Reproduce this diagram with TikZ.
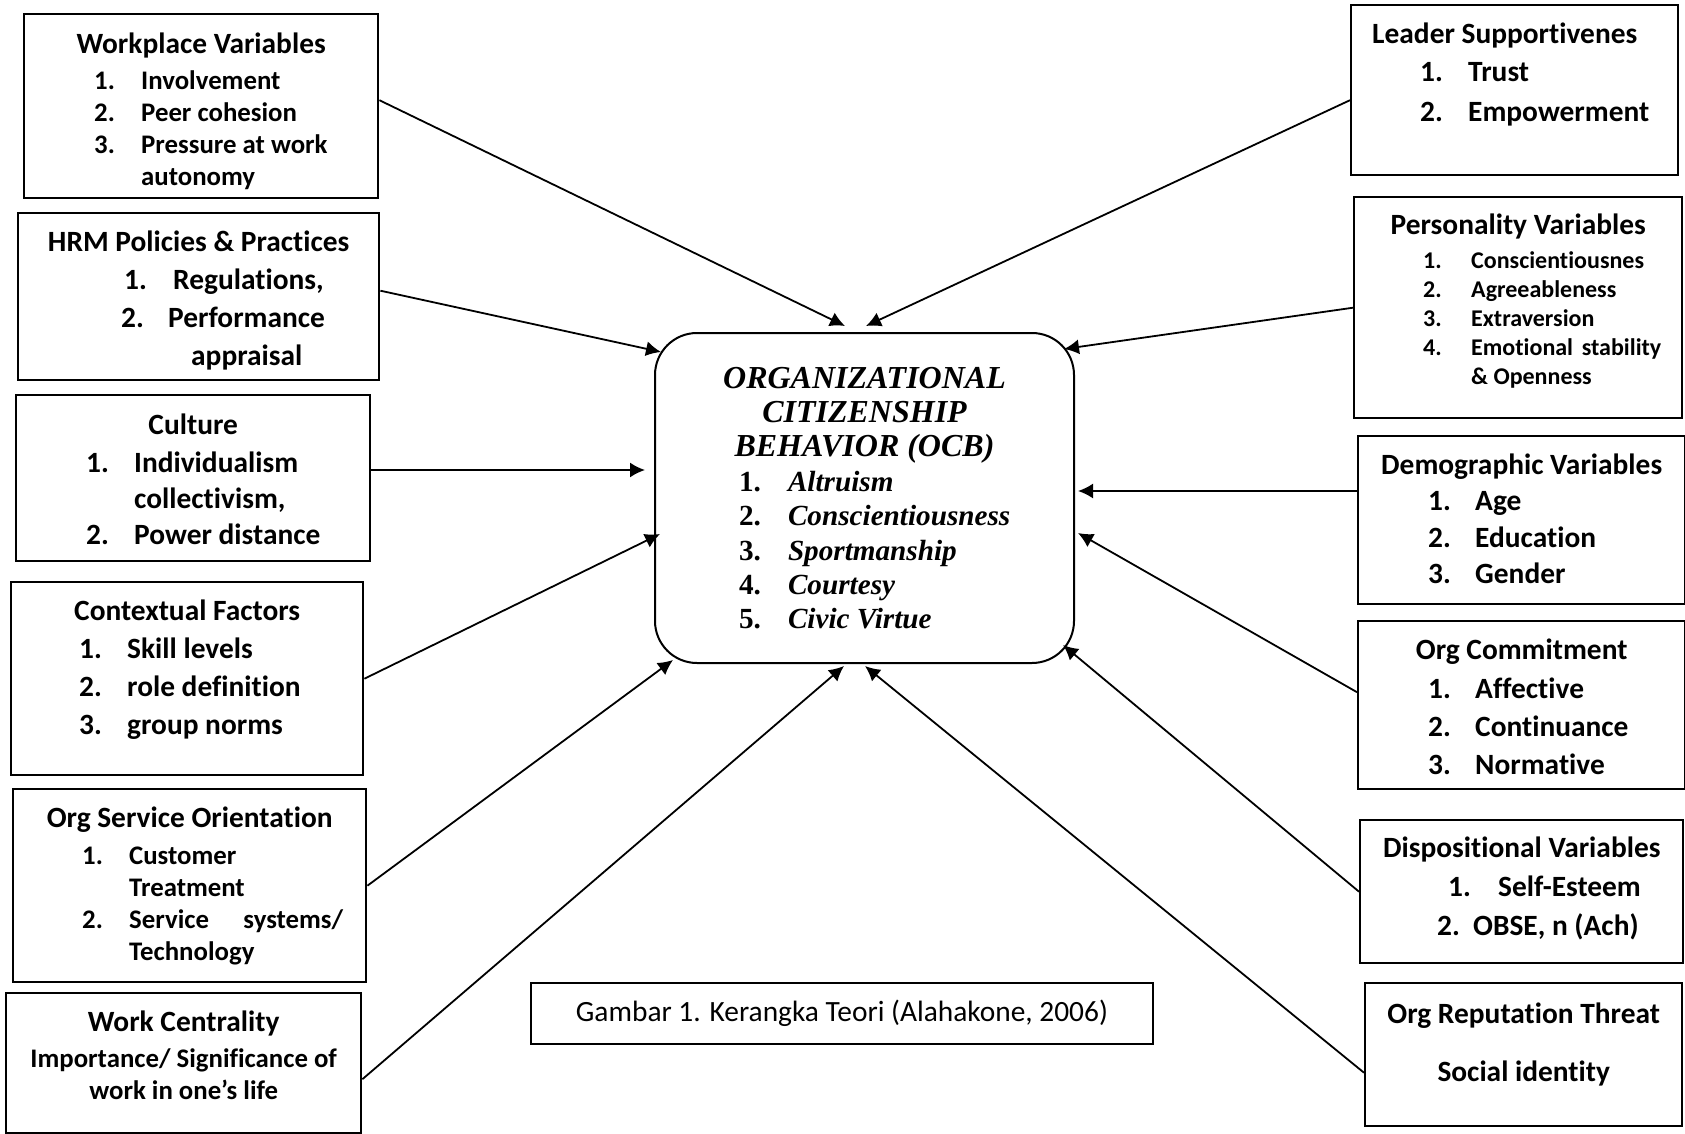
\documentclass[tikz,border=0pt]{standalone}
\usepackage{fontspec}
\setmainfont{Carlito}[Ligatures=NoCommon]
\newfontfamily\timesfont{Liberation Serif}
\usetikzlibrary{arrows.meta}

% header line (first one carries the strut), list line
\newcommand{\hd}[2]{\rule{0pt}{#1}\makebox[\linewidth][c]{#2}}
\newcommand{\li}[4]{\makebox[\linewidth][l]{\hspace*{#1}\makebox[#2][l]{#3}#4}}
\newcommand{\boxtext}[4]{\parbox[t][#2][t]{#1}{\fontsize{14.7}{#3}\selectfont\bfseries #4}}

\begin{document}
\begin{tikzpicture}[x=0.5pt,y=-0.5pt,->,>={Latex[length=7.5pt,width=7.5pt]},
        factor/.style={draw,line width=1.2pt,inner sep=0pt,anchor=north west},
        core/.style={draw,line width=1pt,rounded corners=21pt,inner sep=0pt,anchor=north west},
        caption/.style={draw,line width=0.9pt,inner sep=0pt,anchor=north west,
          minimum width=311pt,minimum height=30.5pt,font=\fontsize{14.7}{17}\selectfont},
        link/.style={line width=0.9pt}]

  \useasboundingbox (0,0) rectangle (1685,1134);

  % centre
  \node[core] (ocb) at (654,332) {\parbox[t][165pt][t]{209.5pt}{%
    \timesfont\bfseries\itshape\fontsize{16}{17.2}\selectfont
    \hd{27.5pt}{ORGANIZATIONAL}\\
    \hd{0pt}{CITIZENSHIP}\\
    \hd{0pt}{BEHAVIOR (OCB)}\par
    \fontsize{14.6}{17.2}\selectfont
    \li{42pt}{24.5pt}{\upshape 1.}{Altruism}\\
    \li{42pt}{24.5pt}{\upshape 2.}{Conscientiousness}\\
    \li{42pt}{24.5pt}{\upshape 3.}{Sportmanship}\\
    \li{42pt}{24.5pt}{\upshape 4.}{Courtesy}\\
    \li{42pt}{24.5pt}{\upshape 5.}{Civic Virtue}}};

  % left column
  \node[factor] (wp) at (23,13) {\boxtext{177pt}{92pt}{16pt}{%
    \hd{19.5pt}{Workplace Variables}\par
    \fontsize{13.4}{16}\selectfont\vspace{2pt}
    \li{35pt}{23.5pt}{1.}{Involvement}\\
    \li{35pt}{23.5pt}{2.}{Peer cohesion}\\
    \li{35pt}{23.5pt}{3.}{Pressure at work}\\
    \li{35pt}{23.5pt}{}{autonomy}}};
  \node[factor] (hrm) at (17,212) {\boxtext{180.5pt}{83.5pt}{19pt}{%
    \hd{19pt}{HRM Policies \& Practices}\\
    \li{53pt}{24.5pt}{1.}{Regulations,}\\
    \li{51.5pt}{23.5pt}{2.}{Performance}\\
    \li{86.5pt}{0pt}{}{appraisal}}};
  \node[factor] (cu) at (15,394) {\boxtext{177pt}{83pt}{18pt}{%
    \hd{19.5pt}{Culture}\\[1pt]
    \li{35pt}{24pt}{1.}{Individualism}\\
    \li{35pt}{24pt}{}{collectivism,}\\
    \li{35pt}{24pt}{2.}{Power distance}}};
  \node[factor] (cf) at (10,581) {\boxtext{176pt}{96.5pt}{19pt}{%
    \hd{19pt}{Contextual Factors}\\
    \li{34pt}{24pt}{1.}{Skill levels}\\
    \li{34pt}{24pt}{2.}{role definition}\\
    \li{34pt}{24pt}{3.}{group norms}}};
  \node[factor] (so) at (12,788) {\boxtext{176.5pt}{96.5pt}{16pt}{%
    \hd{19pt}{Org Service Orientation}\par
    \fontsize{13.4}{16}\selectfont\vspace{2.5pt}
    \li{34.5pt}{23.5pt}{1.}{Customer}\\
    \li{34.5pt}{23.5pt}{}{Treatment}\\
    \li{34.5pt}{23.5pt}{2.}{\makebox[107pt][s]{Service systems/}}\\
    \li{34.5pt}{23.5pt}{}{Technology}}};
  \node[factor] (wc) at (5,992) {\boxtext{177.5pt}{70pt}{16pt}{%
    \hd{19pt}{Work Centrality}\par
    \fontsize{13.4}{16}\selectfont\vspace{2pt}
    \hd{0pt}{Importance/ Significance of}\\
    \hd{0pt}{work in one’s life}}};

  % right column
  \node[factor] (ls) at (1350,4) {\boxtext{163.5pt}{85pt}{20pt}{%
    \rule{0pt}{19pt}\li{10.5pt}{0pt}{}{Leader Supportivenes}\\[-1pt]
    \li{34.5pt}{24pt}{1.}{Trust}\\
    \li{34.5pt}{24pt}{2.}{Empowerment}}};
  \node[factor] (pv) at (1353,196) {\boxtext{164pt}{110.5pt}{16pt}{%
    \hd{18.5pt}{Personality Variables}\par
    \fontsize{12}{14.4}\selectfont\vspace{3pt}
    \li{34.5pt}{24pt}{1.}{Conscientiousnes}\\
    \li{34.5pt}{24pt}{2.}{Agreeableness}\\
    \li{34.5pt}{24pt}{3.}{Extraversion}\\
    \li{34.5pt}{24pt}{4.}{\makebox[95pt][s]{Emotional stability}}\\
    \li{34.5pt}{24pt}{}{\& Openness}}};
  \node[factor] (dv) at (1357,435) {\boxtext{163.5pt}{84pt}{18.25pt}{%
    \hd{19pt}{Demographic Variables}\\
    \li{35pt}{23.5pt}{1.}{Age}\\
    \li{35pt}{23.5pt}{2.}{Education}\\
    \li{35pt}{23.5pt}{3.}{Gender}}};
  \node[factor] (oc) at (1357,620) {\boxtext{163.5pt}{84pt}{19pt}{%
    \hd{19pt}{Org Commitment}\\[0.5pt]
    \li{35pt}{23.5pt}{1.}{Affective}\\
    \li{35pt}{23.5pt}{2.}{Continuance}\\
    \li{35pt}{23.5pt}{3.}{Normative}}};
  \node[factor] (dp) at (1359,819) {\boxtext{161.5pt}{71.5pt}{19.5pt}{%
    \hd{18.5pt}{Dispositional Variables}\\
    \li{44pt}{25pt}{1.}{Self-Esteem}\\
    \li{38.5pt}{18pt}{2.}{OBSE, n (Ach)}}};
  \node[factor] (rt) at (1364,982) {\boxtext{158.5pt}{71.5pt}{29pt}{%
    \hd{20pt}{Org Reputation Threat}\\
    \hd{0pt}{Social identity}}};

  \node[caption] (cap) at (530,982) {Gambar 1. Kerangka Teori (Alahakone, 2006)};

  % arrow tips round the centre box
  \coordinate (t1) at (845,326);
  \coordinate (t2) at (866,326);
  \coordinate (t3) at (661,352);
  \coordinate (t4) at (1064,349);
  \coordinate (t5) at (645,470);
  \coordinate (t6) at (1078,491);
  \coordinate (t7) at (660,534);
  \coordinate (t8) at (1078,533);
  \coordinate (t9) at (673,660);
  \coordinate (t10) at (1063,645);
  \coordinate (t11) at (844,666);
  \coordinate (t12) at (865,666);

  \path ([yshift=3pt]wp.east)   edge[link] (t1)
        ([yshift=-5pt]ls.west)  edge[link] (t2)
        ([yshift=3pt]hrm.east)  edge[link] (t3)
        (pv.west)               edge[link] (t4)
        (cu.east |- t5)         edge[link] (t5)
        (dv.west |- t6)         edge[link] (t6)
        (cf.east)               edge[link] (t7)
        ([yshift=6.5pt]oc.west) edge[link] (t8)
        (so.east)               edge[link] (t9)
        (dp.west)               edge[link] (t10)
        ([yshift=-8pt]wc.east)  edge[link] (t11)
        ([yshift=-9pt]rt.west)  edge[link] (t12);

\end{tikzpicture}
\end{document}
